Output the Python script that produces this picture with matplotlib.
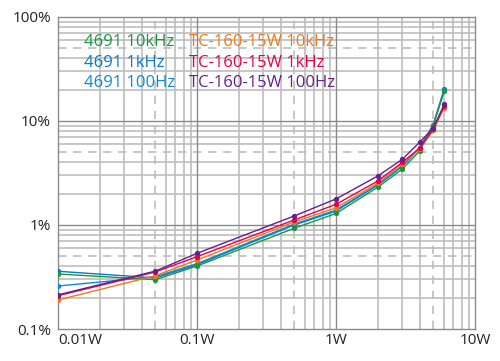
import matplotlib
matplotlib.use("Agg")
import matplotlib.pyplot as plt
from matplotlib.ticker import FixedLocator, NullFormatter

plt.rcParams['font.family'] = ['Open Sans', 'DejaVu Sans']

power_w = [0.01, 0.05, 0.1, 0.5, 1, 2, 3, 4, 5, 6]
g4691_10k = [0.338, 0.298, 0.403, 0.93, 1.29, 2.31, 3.45, 5.15, 9.0, 19.3]
g4691_1k = [0.359, 0.31, 0.415, 1.0, 1.36, 2.42, 3.65, 5.55, 9.2, 20.3]
g4691_100 = [0.259, 0.318, 0.425, 1.02, 1.39, 2.45, 3.7, 5.5, 9.0, 19.8]
tc_10k = [0.19, 0.325, 0.46, 1.07, 1.46, 2.53, 3.86, 5.4, 8.1, 13.4]
tc_1k = [0.209, 0.353, 0.496, 1.117, 1.58, 2.65, 4.0, 5.5, 8.3, 13.9]
tc_100 = [0.213, 0.36, 0.534, 1.22, 1.78, 2.96, 4.28, 6.25, 8.5, 14.4]

series_labels = ["4691 10kHz", "4691 1kHz", "4691 100Hz",
                 "TC-160-15W 10kHz", "TC-160-15W 1kHz", "TC-160-15W 100Hz"]
series_values = [g4691_10k, g4691_1k, g4691_100, tc_10k, tc_1k, tc_100]
colors = ["#1a9641", "#0a78c8", "#0a8ad2", "#f07818", "#e6004a", "#64208c"]
draw_order = [1, 2, 0, 3, 4, 5]

x_ticks = [0.01, 0.1, 1, 10]
x_ticklabels = ["0.01W", "0.1W", "1W", "10W"]
y_ticks = [0.1, 1, 10, 100]
y_ticklabels = ["0.1%", "1%", "10%", "100%"]

fig = plt.figure(figsize=(5.0, 3.61), dpi=100)
ax = fig.add_axes([0.116, 0.0886, 0.834, 0.8645])
ax.set_xscale('log')
ax.set_yscale('log')
ax.set_xlim(0.01, 10)
ax.set_ylim(0.1, 100)

minor_col = "#bdbdbd"
major_col = "#8a8a8a"

# gridlines
for dec in [0.01, 0.1, 1]:
    for m in range(2, 10):
        v = dec * m
        if m == 5:
            ax.axvline(v, color=minor_col, lw=1.2, ls=(0, (5, 4)), zorder=1)
        else:
            ax.axvline(v, color=minor_col, lw=1.2, zorder=1)
for dec in [0.1, 1, 10]:
    for m in range(2, 10):
        v = dec * m
        if m == 5:
            ax.axhline(v, color=minor_col, lw=1.2, ls=(0, (5, 4)), zorder=1)
        else:
            ax.axhline(v, color=minor_col, lw=1.2, zorder=1)
for v in [0.1, 1]:
    ax.axvline(v, color=major_col, lw=1.0, zorder=1.5)
for v in [1, 10]:
    ax.axhline(v, color=major_col, lw=1.0, zorder=1.5)

for i in draw_order:
    ax.plot(power_w, series_values[i], color=colors[i], lw=1.0,
            marker='o', ms=2.8, zorder=3)

ax.xaxis.set_major_locator(FixedLocator(x_ticks))
ax.yaxis.set_major_locator(FixedLocator(y_ticks))
ax.xaxis.set_minor_formatter(NullFormatter())
ax.yaxis.set_minor_formatter(NullFormatter())
ax.set_xticklabels(x_ticklabels)
ax.set_yticklabels(y_ticklabels)
ax.tick_params(which='both', length=0, labelsize=11, colors='#222222')
ax.tick_params(axis='x', pad=3)
ax.tick_params(axis='y', pad=5)
lbls = ax.get_xticklabels()
lbls[0].set_horizontalalignment('left')

for sp in ax.spines.values():
    sp.set_color(major_col)
    sp.set_linewidth(1.0)

# legend as coloured text
pos = [(0.062, 0.92), (0.062, 0.853), (0.062, 0.788),
       (0.314, 0.92), (0.314, 0.853), (0.314, 0.788)]
for (px, py), lab, col in zip(pos, series_labels, colors):
    ax.text(px, py, lab, color=col, fontsize=12, transform=ax.transAxes,
            ha='left', va='center', zorder=4)

fig.savefig("out.png", dpi=100)
